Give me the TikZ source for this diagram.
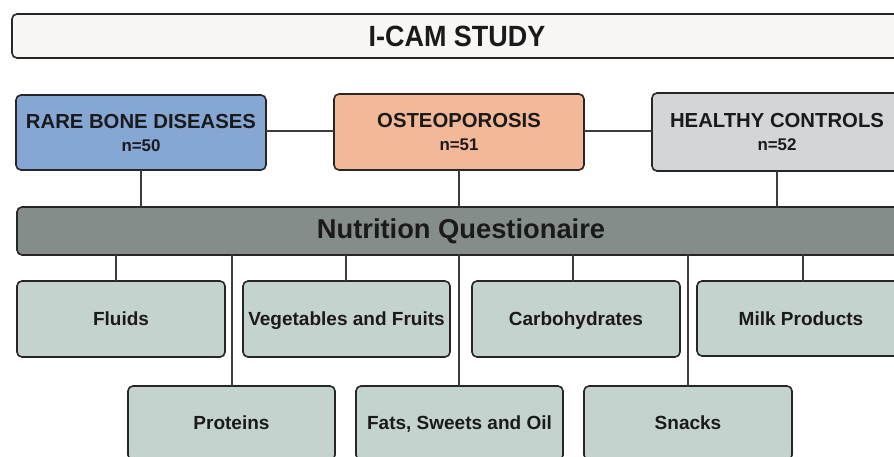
\documentclass[tikz,border=0pt]{standalone}
\usepackage{fontspec}
\setmainfont{Liberation Sans}
\newfontfamily\condfont[FakeStretch=0.92]{Liberation Sans}
\definecolor{titlefill}{HTML}{F8F7F6}
\definecolor{rbdfill}{HTML}{86A7D4}
\definecolor{ostfill}{HTML}{F2B897}
\definecolor{hcfill}{HTML}{D2D6D9}
\definecolor{nutfill}{HTML}{858D8B}
\definecolor{foodfill}{HTML}{C5D3CF}
\definecolor{edgecol}{HTML}{262626}
\definecolor{txtcol}{HTML}{1A1A1A}
\tikzset{
  box/.style={draw=edgecol, line width=1.6pt, rounded corners=5pt, inner sep=0pt, outer sep=0pt,
    anchor=north west, text=txtcol, align=center},
  groupbox/.style={box, font=\bfseries\fontsize{20.3}{23}\selectfont},
  foodbox/.style={box, fill=foodfill, minimum width=208pt, text height=13.7pt, text depth=0pt,
    font=\bfseries\fontsize{19}{22}\selectfont},
  link/.style={draw=edgecol!90, line width=1.6pt}
}
\newcommand{\nsub}[1]{\\[0pt]{\fontsize{16.9}{23}\selectfont #1}}
\begin{document}
\begin{tikzpicture}[x=1pt,y=-1pt]
\useasboundingbox (0,0) rectangle (894,457);
\clip (0,0) rectangle (894,457);
\fill[white] (0,0) rectangle (894,457);
% title
\node[box, fill=titlefill, minimum width=890pt, minimum height=44pt,
  font=\condfont\bfseries\fontsize{29.3}{32}\selectfont] (title) at (12,14) {I-CAM STUDY};
% groups
\node[groupbox, fill=rbdfill, minimum width=250pt, minimum height=75pt] (rbd) at (16,95)
  {RARE BONE DISEASES\nsub{n=50}};
\node[groupbox, fill=ostfill, minimum width=250pt, minimum height=76pt] (ost) at (334,94)
  {OSTEOPOROSIS\nsub{n=51}};
\node[groupbox, fill=hcfill, minimum width=250pt, minimum height=78pt] (hc) at (652,93)
  {HEALTHY CONTROLS\nsub{n=52}};
% questionnaire
\node[box, fill=nutfill, minimum width=888pt, minimum height=48pt, text height=15.5pt, text depth=0pt,
  font=\bfseries\fontsize{27.3}{30}\selectfont] (nut) at (17,207) {Nutrition Questionaire};
% food row 1
\node[foodbox, minimum height=76pt] (fl) at (17,281) {Fluids};
\node[foodbox, minimum width=207pt, minimum height=76pt] (veg) at (243,281) {Vegetables and Fruits};
\node[foodbox, minimum height=76pt] (carb) at (472,281) {Carbohydrates};
\node[foodbox, minimum height=75pt] (milk) at (697,281) {Milk Products};
% food row 2
\node[foodbox, minimum width=207pt, minimum height=74pt] (prot) at (128,386) {Proteins};
\node[foodbox, minimum width=207pt, minimum height=74pt] (fats) at (356,386) {Fats, Sweets and Oil};
\node[foodbox, minimum height=74pt] (snk) at (584,386) {Snacks};
% connectors between groups
\draw[link] (rbd.east |- 0,131) -- (ost.west |- 0,131);
\draw[link] (ost.east |- 0,131) -- (hc.west |- 0,131);
% groups to questionnaire
\draw[link] (rbd.south) -- (rbd.south |- nut.north);
\draw[link] (ost.south) -- (ost.south |- nut.north);
\draw[link] (hc.south) -- (hc.south |- nut.north);
% questionnaire to food groups
\coordinate (k1) at (116,0);
\coordinate (k2) at (232,0);
\coordinate (k3) at (346,0);
\coordinate (k4) at (459,0);
\coordinate (k5) at (573,0);
\coordinate (k6) at (688,0);
\coordinate (k7) at (803,0);
\draw[link] (k1 |- nut.south) -- (k1 |- fl.north);
\draw[link] (k2 |- nut.south) -- (k2 |- prot.north);
\draw[link] (k3 |- nut.south) -- (k3 |- veg.north);
\draw[link] (k4 |- nut.south) -- (k4 |- fats.north);
\draw[link] (k5 |- nut.south) -- (k5 |- carb.north);
\draw[link] (k6 |- nut.south) -- (k6 |- snk.north);
\draw[link] (k7 |- nut.south) -- (k7 |- milk.north);
\end{tikzpicture}
\end{document}
